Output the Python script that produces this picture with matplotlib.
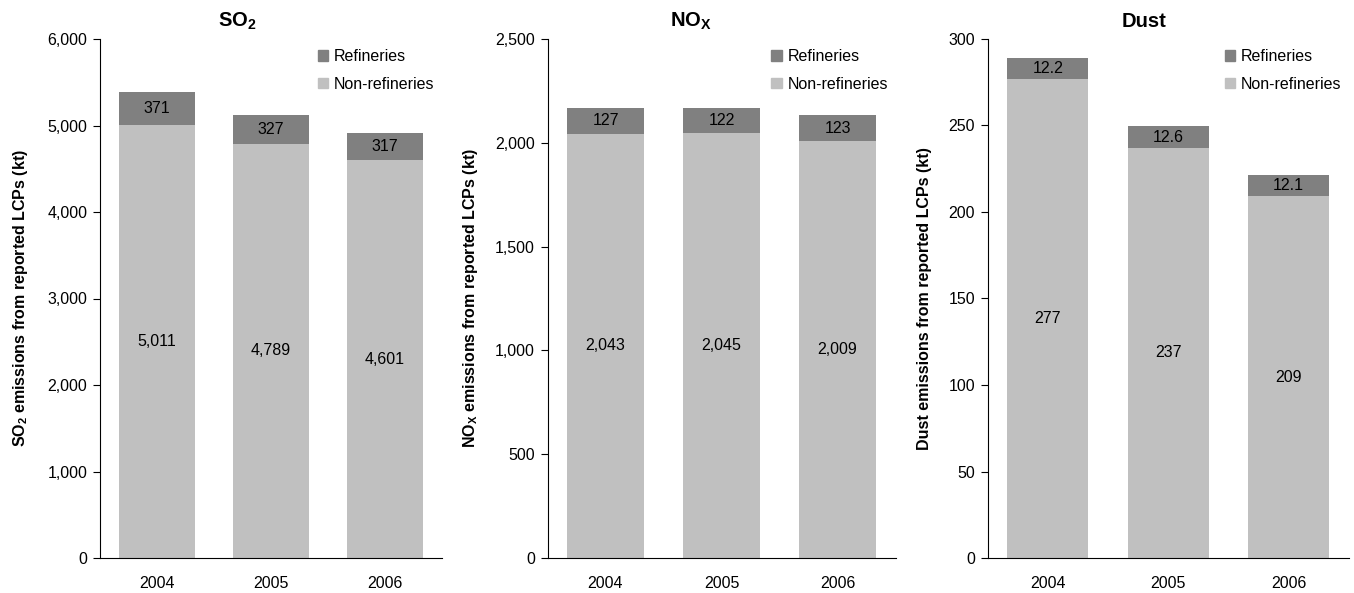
import numpy as np
import matplotlib
matplotlib.use('Agg')
import matplotlib.pyplot as plt
from matplotlib.patches import Patch

plt.rcParams['font.family'] = ['Liberation Sans', 'DejaVu Sans']
plt.rcParams['mathtext.fontset'] = 'custom'
plt.rcParams['mathtext.rm'] = 'Liberation Sans'
plt.rcParams['mathtext.bf'] = 'Liberation Sans:bold'

years = ['2004', '2005', '2006']

so2_nonref = [5011, 4789, 4601]
so2_ref = [371, 327, 317]
nox_nonref = [2043, 2045, 2009]
nox_ref = [127, 122, 123]
dust_nonref = [277, 237, 209]
dust_ref = [12.2, 12.6, 12.1]

DARK = '#808080'
LIGHT = '#c0c0c0'

panels = [
    dict(title=r'SO$_\mathbf{2}$', ylabel=r'SO$_\mathbf{2}$ emissions from reported LCPs (kt)',
         nonref=so2_nonref, ref=so2_ref, ymax=6000, step=1000, fmt='{:,.0f}', rfmt='{:,.0f}',
         rect=[100, 342], title_x=0.40, ylab_x=21),
    dict(title=r'NO$_\mathbf{X}$', ylabel=r'NO$_\mathbf{X}$ emissions from reported LCPs (kt)',
         nonref=nox_nonref, ref=nox_ref, ymax=2500, step=500, fmt='{:,.0f}', rfmt='{:,.0f}',
         rect=[547.5, 348], title_x=0.412, ylab_x=471),
    dict(title='Dust', ylabel='Dust emissions from reported LCPs (kt)',
         nonref=dust_nonref, ref=dust_ref, ymax=300, step=50, fmt='{:,.0f}', rfmt='{:.1f}',
         rect=[987.5, 361.5], title_x=0.433, ylab_x=925),
]

W, H = 1354, 593
fig = plt.figure(figsize=(W / 100, H / 100), dpi=100)
y_top, y_bot = 39, 558
FS = 11.5

for p in panels:
    left, width = p['rect']
    ax = fig.add_axes([left / W, 1 - y_bot / H, width / W, (y_bot - y_top) / H])
    x = np.arange(len(years))
    ax.bar(x, p['nonref'], width=0.67, color=LIGHT, label='Non-refineries')
    ax.bar(x, p['ref'], width=0.67, bottom=p['nonref'], color=DARK, label='Refineries')
    for xi, nr, r in zip(x, p['nonref'], p['ref']):
        ax.text(xi, nr / 2, p['fmt'].format(nr), ha='center', va='center', fontsize=FS)
        ax.text(xi, nr + r / 2, p['rfmt'].format(r), ha='center', va='center', fontsize=FS)

    ax.set_xlim(-0.5, 2.5)
    ax.set_ylim(0, p['ymax'])
    ax.set_yticks(np.arange(0, p['ymax'] + 1, p['step']))
    ax.yaxis.set_major_formatter(matplotlib.ticker.FuncFormatter(lambda v, _: f'{v:,.0f}'))
    ax.set_xticks(x)
    ax.set_xticklabels(years)
    ax.tick_params(axis='x', length=0, pad=13, labelsize=FS)
    ax.tick_params(axis='y', length=5, width=0.8, pad=4, labelsize=FS)
    for s in ['top', 'right']:
        ax.spines[s].set_visible(False)
    for s in ['left', 'bottom']:
        ax.spines[s].set_linewidth(0.8)

    ax.text(p['title_x'], (y_bot - 27) / (y_bot - y_top), p['title'], transform=ax.transAxes,
            ha='center', va='baseline', fontsize=14.5, fontweight='bold')
    ax.set_ylabel(p['ylabel'], fontsize=11.5, fontweight='bold', va='center')
    ax.yaxis.set_label_coords((p['ylab_x'] - left) / width, 0.5)

    handles = [Patch(color=DARK), Patch(color=LIGHT)]
    ax.legend(handles, ['Refineries', 'Non-refineries'], loc='upper right',
              bbox_to_anchor=(0.978, 0.98), frameon=False, fontsize=FS,
              handlelength=0.65, handleheight=0.65, handletextpad=0.35,
              labelspacing=0.77, borderpad=0, borderaxespad=0)

fig.savefig('out.png', dpi=100)
